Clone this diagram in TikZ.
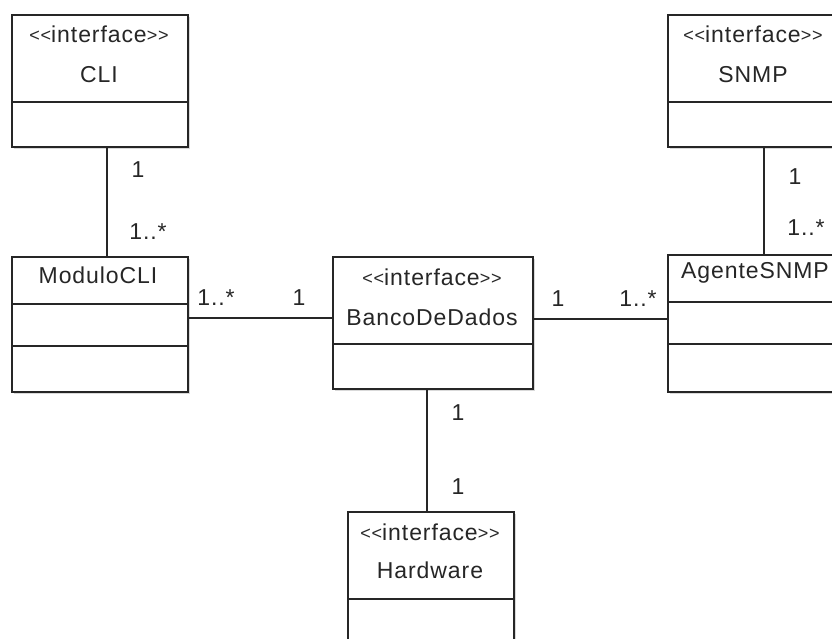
\documentclass[tikz,border=0pt]{standalone}
\usepackage{fontspec}
\setmainfont[LetterSpace=4]{Liberation Sans}
\usetikzlibrary{shadows,calc}
\newcommand{\chev}[1]{{\fontsize{18}{20}\selectfont\raisebox{0.5pt}{#1{}#1}}}
\newcommand{\stereo}{\chev{<}interface\chev{>}}
\begin{document}
\begin{tikzpicture}[x=1pt,y=-1pt,
  box/.style={draw=black!85,line width=1.6pt,fill=white,inner sep=0pt,
    drop shadow={shadow xshift=2pt,shadow yshift=-2pt,fill=black!25,opacity=0.6}},
  divider/.style={draw=black!85,line width=1.6pt},
  assoc/.style={draw=black!85,line width=1.6pt},
  txt/.style={font=\fontsize{23}{26}\selectfont,inner sep=0pt,text=black!85},
  mult/.style={font=\fontsize{23}{26}\selectfont,inner sep=0pt,text=black!85}]
\useasboundingbox (0,0) rectangle (832,638);
\begin{scope}
\clip (0,0) rectangle (832,638);

% class boxes
\node[box,minimum width=176pt,minimum height=132pt,anchor=north west] (cli) at (11,14) {};
\node[box,minimum width=172pt,minimum height=132pt,anchor=north west] (snmp) at (667,14) {};
\node[box,minimum width=176pt,minimum height=135pt,anchor=north west] (modulo) at (11,256) {};
\node[box,minimum width=200pt,minimum height=132pt,anchor=north west] (banco) at (332,256) {};
\node[box,minimum width=176pt,minimum height=137pt,anchor=north west] (agente) at (667,254) {};
\node[box,minimum width=166pt,minimum height=150pt,anchor=north west] (hw) at (347,511) {};

% compartment dividers
\draw[divider] (cli.west |- 0,102) -- (cli.east |- 0,102);
\draw[divider] (snmp.west |- 0,102) -- (snmp.east |- 0,102);
\draw[divider] (modulo.west |- 0,304) -- (modulo.east |- 0,304);
\draw[divider] (modulo.west |- 0,346) -- (modulo.east |- 0,346);
\draw[divider] (banco.west |- 0,344) -- (banco.east |- 0,344);
\draw[divider] (agente.west |- 0,302) -- (agente.east |- 0,302);
\draw[divider] (agente.west |- 0,344) -- (agente.east |- 0,344);
\draw[divider] (hw.west |- 0,599) -- (hw.east |- 0,599);

% class titles
\node[txt] (cliS) at (99,34) {\stereo};
\node[txt] (cliN) at (99,75) {CLI};
\node[txt] (snmpS) at (753,34) {\stereo};
\node[txt] (snmpN) at (753,75) {SNMP};
\node[txt] (moduloN) at (98,275) {ModuloCLI};
\node[txt] (bancoS) at (432,277) {\stereo};
\node[txt] (bancoN) at (432,317) {BancoDeDados};
\node[txt] (agenteN) at (755,273) {AgenteSNMP};
\node[txt] (hwS) at (430,532) {\stereo};
\node[txt] (hwN) at (430,570) {Hardware};
\end{scope}

% associations
\coordinate (cliX) at (107,0);
\coordinate (snmpX) at (764,0);
\coordinate (hwX) at (427,0);
\coordinate (leftY) at (0,318);
\coordinate (rightY) at (0,319);
\draw[assoc] (cli.south -| cliX) -- (modulo.north -| cliX);
\draw[assoc] (snmp.south -| snmpX) -- (agente.north -| snmpX);
\draw[assoc] (modulo.east |- leftY) -- (banco.west |- leftY);
\draw[assoc] (banco.east |- rightY) -- (agente.west |- rightY);
\draw[assoc] (banco.south -| hwX) -- (hw.north -| hwX);

% multiplicities
\node[mult] (m1) at (138,170) {1};
\node[mult] (m2) at (148,232) {1..*};
\node[mult] (m3) at (216,298) {1..*};
\node[mult] (m4) at (299,298) {1};
\node[mult] (m5) at (558,299) {1};
\node[mult] (m6) at (638,299) {1..*};
\node[mult] (m7) at (795,177) {1};
\node[mult] (m8) at (806,228) {1..*};
\node[mult] (m9) at (458,413) {1};
\node[mult] (m10) at (458,487) {1};
\end{tikzpicture}
\end{document}
